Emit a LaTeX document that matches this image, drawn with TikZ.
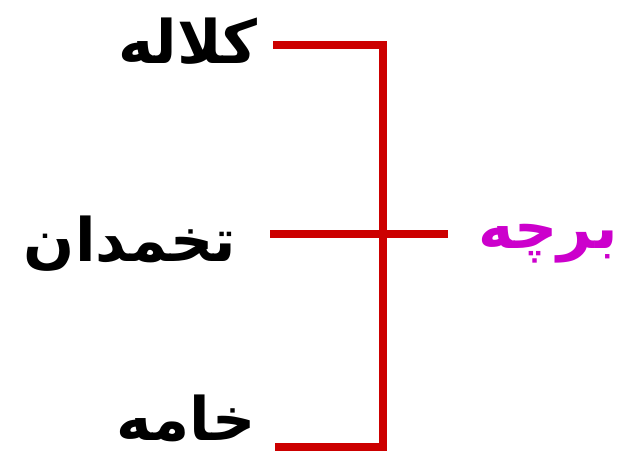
\documentclass[tikz,border=0pt]{standalone}
\usepackage{fontspec}
\newfontfamily\arabicfont[Script=Arabic]{DejaVu Sans}
\TeXXeTstate=1
\definecolor{barred}{RGB}{204,0,0}
\definecolor{lblmag}{RGB}{204,0,204}
\begin{document}
\begin{tikzpicture}[x=1pt,y=1pt,
  lbl/.style={font=\arabicfont\bfseries\fontsize{60}{70}\selectfont, inner sep=0pt, anchor=center},
  bar/.style={draw=barred, line width=7.5pt},
  shadowbar/.style={draw=black!55, line width=7.5pt, opacity=0.45}]
\useasboundingbox (0,0) rectangle (621,454);
\clip (0,0) rectangle (621,454);
% junction coordinates (y = 454 - pixel y)
\coordinate (tl) at (273,409);
\coordinate (tr) at (383,409);
\coordinate (ml) at (270,220);
\coordinate (mr) at (448,220);
\coordinate (bl) at (275,7);
\coordinate (br) at (383,7);
% shadows
\begin{scope}[shift={(3,-3.5)}]
\draw[shadowbar] (tl) -- (tr) -- (br) -- (bl);
\draw[shadowbar] (ml) -- (mr);
\end{scope}
% bars
\draw[bar, line join=miter] (tl) -- (tr) -- (br) -- (bl);
\draw[bar] (ml) -- (mr);
% labels
\node[lbl] (kalale) at (188,413) {\beginR کلاله\endR};
\node[lbl] (tokhmdan) at (130,210) {\beginR تخمدان\endR};
\node[lbl] (khame) at (186,36) {\beginR خامه\endR};
\node[lbl, text=lblmag] (barche) at (548,210) {\beginR برچه\endR};
\end{tikzpicture}
\end{document}
